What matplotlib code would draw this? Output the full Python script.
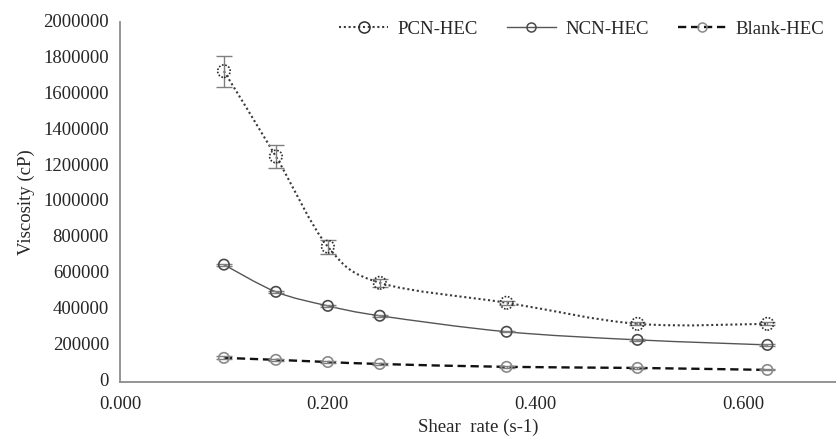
import numpy as np
import matplotlib
matplotlib.use('Agg')
import matplotlib.pyplot as plt
import matplotlib.transforms as mtransforms
from matplotlib.path import Path
from matplotlib.patches import PathPatch
from matplotlib.lines import Line2D

plt.rcParams['font.family'] = ['Liberation Serif', 'DejaVu Serif']
plt.rcParams['font.size'] = 13.5

shear_rate = [0.100, 0.150, 0.200, 0.250, 0.372, 0.498, 0.623]
pcn_hec = [1727000, 1253000, 752000, 551000, 440000, 323000, 323000]
pcn_err = [86000, 64000, 39000, 22000, 12000, 8000, 8000]
ncn_hec = [652000, 501000, 423000, 368000, 279000, 234000, 206000]
ncn_err = [6000, 6000, 5000, 5000, 4000, 4000, 4000]
blank_hec = [134000, 123000, 111000, 100000, 84000, 78000, 67000]
blank_err = [9000, 7000, 6000, 5000, 4000, 4000, 3000]


def smooth_path(x, y):
    # excel-like smoothed line: catmull-rom segments as cubic beziers
    pts = np.column_stack([np.asarray(x, float), np.asarray(y, float)])
    verts = [pts[0]]
    codes = [Path.MOVETO]
    n = len(pts)
    for i in range(n - 1):
        p0 = pts[i - 1] if i > 0 else pts[i]
        p1 = pts[i]
        p2 = pts[i + 1]
        p3 = pts[i + 2] if i + 2 < n else pts[i + 1]
        verts += [p1 + (p2 - p0) / 6.0, p2 - (p3 - p1) / 6.0, p2]
        codes += [Path.CURVE4] * 3
    return Path(verts, codes)


fig = plt.figure(figsize=(8.37, 4.36), dpi=100)
ax = fig.add_axes([0.1434, 0.1239, 0.8566, 0.8256])

# values, errors, label, line colour, line style, line width, marker size, marker edge, marker style
series = [
    (pcn_hec, pcn_err, 'PCN-HEC', '#3a3a3a', (0, (1, 1.3)), 1.5, 9, '#2e2e2e', (0, (1, 1))),
    (ncn_hec, ncn_err, 'NCN-HEC', '#555555', '-', 1.0, 7.5, '#4a4a4a', '-'),
    (blank_hec, blank_err, 'Blank-HEC', '#111111', (0, (3.5, 2)), 1.7, 7.5, '#8a8a8a', '-'),
]

handles = []
for vals, err, lab, col, ls, lw, ms, mec, mls in series:
    ax.add_patch(PathPatch(smooth_path(shear_rate, vals), facecolor='none',
                           edgecolor=col, linestyle=ls, linewidth=lw, zorder=2))
    ax.errorbar(shear_rate, vals, yerr=err, fmt='none', ecolor='#7f7f7f',
                elinewidth=1.0, capsize=6, capthick=1.0, zorder=3)
    ax.scatter(shear_rate, vals, s=ms ** 2, marker='o', facecolors='none',
               edgecolors=mec, linewidths=1.2, linestyles=mls, zorder=4)
    handles.append(Line2D([], [], color=col, linestyle=ls, linewidth=lw,
                          marker='o', ms=ms - 1, mfc='none', mec=mec, mew=1.1))

ax.set_xlim(0, 0.69)
ax.set_ylim(0, 2000000)
ax.set_xticks([0.0, 0.2, 0.4, 0.6])
ax.set_xticklabels(['0.000', '0.200', '0.400', '0.600'])
ax.set_yticks(np.arange(0, 2000001, 200000))
ax.set_yticklabels([str(v) for v in range(0, 2000001, 200000)])
ax.tick_params(length=0, colors='#262626')
ax.tick_params(axis='y', pad=8)
ax.tick_params(axis='x', pad=10)

# nudge y tick labels up a little so "0" clears "0.000"
up = mtransforms.ScaledTranslation(0, 2 / 100, fig.dpi_scale_trans)
for lbl in ax.get_yticklabels():
    lbl.set_transform(lbl.get_transform() + up)

for s in ['top', 'right']:
    ax.spines[s].set_visible(False)
for s in ['left', 'bottom']:
    ax.spines[s].set_color('#8c8c8c')
    ax.spines[s].set_linewidth(1.3)

ax.set_xlabel('Shear  rate (s-1)', color='#262626', labelpad=4)
ax.set_ylabel('Viscosity (cP)', color='#262626', labelpad=6)

leg = ax.legend(handles, ['PCN-HEC', 'NCN-HEC', 'Blank-HEC'], ncol=3,
                loc='upper right', bbox_to_anchor=(1.006, 1.05), frameon=False,
                handlelength=2.6, columnspacing=1.55, handletextpad=0.5)
for t in leg.get_texts():
    t.set_color('#262626')

fig.savefig('out.png', dpi=100)
